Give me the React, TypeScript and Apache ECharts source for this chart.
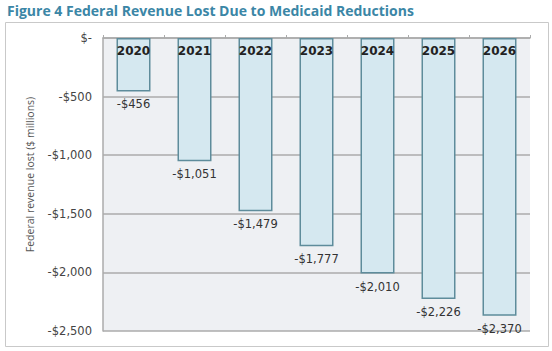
import React, { useEffect, useRef } from "react";
import * as echarts from "echarts";

const years = ["2020", "2021", "2022", "2023", "2024", "2025", "2026"];
const revenueLost = [-456, -1051, -1479, -1777, -2010, -2226, -2370];
const yTicks = { min: -2500, max: 0, interval: 500 };
const titleText = "Figure 4 Federal Revenue Lost Due to Medicaid Reductions";
const yAxisName = "Federal revenue lost ($ millions)";

function money(v: number): string {
  if (v === 0) return "$-";
  const abs = Math.abs(v).toLocaleString("en-US");
  return (v < 0 ? "-$" : "$") + abs;
}

const labelFont = "'DejaVu Sans', sans-serif";

export default function App() {
  const ref = useRef<HTMLDivElement>(null);
  useEffect(() => {
    if (!ref.current) return;
    const chart = echarts.init(ref.current, undefined, { renderer: "svg" });
    chart.setOption({
      animation: false,
      backgroundColor: "#ffffff",
      graphic: [
        {
          type: "rect",
          z: -10,
          shape: { x: 5.5, y: 22.5, width: 543, height: 324 },
          style: { fill: "#ffffff", stroke: "#c9c9c9", lineWidth: 1 },
        },
        {
          type: "text",
          x: 7,
          y: 3,
          style: {
            text: titleText,
            fill: "#3b86a6",
            font: "bold 14px 'Open Sans', sans-serif",
          },
        },
      ],
      grid: {
        left: 103,
        right: 22,
        top: 38,
        bottom: 20,
        show: true,
        backgroundColor: "#eef0f3",
        borderWidth: 0,
      },
      xAxis: {
        type: "category",
        data: years,
        position: "top",
        axisLine: { show: true, lineStyle: { color: "#ababab", width: 1.5 } },
        axisTick: { show: true, length: 3, lineStyle: { color: "#ababab" } },
        axisLabel: { show: false },
        splitLine: { show: false },
      },
      yAxis: {
        type: "value",
        min: yTicks.min,
        max: yTicks.max,
        interval: yTicks.interval,
        name: yAxisName,
        nameLocation: "middle",
        nameGap: 68,
        nameRotate: 90,
        nameTextStyle: {
          color: "#555555",
          fontSize: 10.5,
          fontFamily: "'Open Sans', sans-serif",
          padding: [0, 0, 0, 20],
        },
        axisLine: { show: true, lineStyle: { color: "#ababab", width: 1.5 } },
        axisTick: { show: false },
        axisLabel: {
          margin: 11,
          color: "#444444",
          fontSize: 11.5,
          fontFamily: labelFont,
          formatter: (v: number) => money(v),
        },
        splitLine: { show: true, lineStyle: { color: "#ababab", width: 1.5 } },
      },
      series: [
        {
          type: "bar",
          data: revenueLost,
          barWidth: 34,
          itemStyle: {
            color: "#d5e8f0",
            borderColor: "#5e8c9b",
            borderWidth: 1.5,
          },
          label: {
            show: true,
            position: "bottom",
            distance: 7,
            color: "#333333",
            fontSize: 11.5,
            fontFamily: labelFont,
            formatter: (p: any) => money(p.value),
          },
        },
        {
          type: "bar",
          data: revenueLost,
          barWidth: 34,
          barGap: "-100%",
          silent: true,
          itemStyle: { color: "rgba(0,0,0,0)", borderWidth: 0 },
          label: {
            show: true,
            position: "insideTop",
            distance: 7,
            color: "#222222",
            fontWeight: "bold",
            fontSize: 12,
            fontFamily: labelFont,
            formatter: (p: any) => p.name,
          },
        },
      ],
    });
    return () => chart.dispose();
  }, []);
  return (
    <div
      ref={ref}
      style={{ position: "fixed", left: 0, top: 0, width: 552, height: 351 }}
    />
  );
}
